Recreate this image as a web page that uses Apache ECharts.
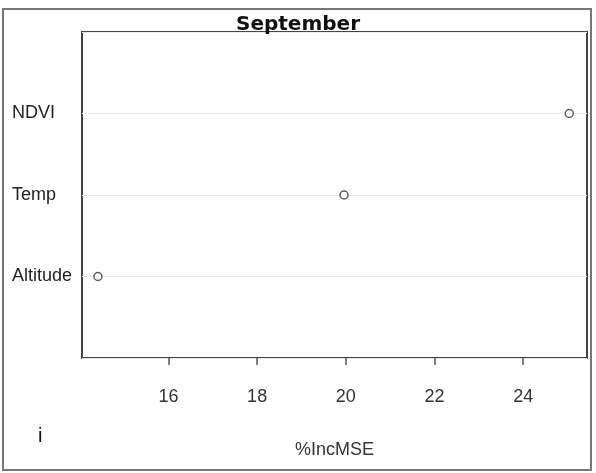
<!DOCTYPE html>
<html>
<head>
<meta charset="utf-8">
<script src="https://cdn.jsdelivr.net/npm/echarts@6/dist/echarts.min.js"></script>
<style>
  html, body { margin: 0; padding: 0; background: #fff; }
  #chart { width: 596px; height: 473px; }
</style>
</head>
<body>
<div id="chart"></div>
<script>
// dotchart rows, bottom to top
const variables = ['Altitude', 'Temp', 'NDVI'];
const incMSE = [14.41, 19.96, 25.04];
const xTicks = [16, 18, 20, 22, 24];

const chart = echarts.init(document.getElementById('chart'));

const points = incMSE.map((v, i) => [v, i + 1]);

chart.setOption({
  animation: false,
  title: {
    text: 'September',
    left: 'center',
    top: 10,
    textStyle: { fontFamily: 'DejaVu Sans', fontWeight: 'bold', fontSize: 20, color: '#111' }
  },
  grid: { left: 82, right: 9, top: 32, bottom: 115, show: true, borderColor: '#444', borderWidth: 2 },
  xAxis: {
    type: 'value',
    min: 14.05,
    max: 25.44,
    name: '%IncMSE',
    nameLocation: 'middle',
    nameGap: 83,
    nameTextStyle: { fontFamily: 'Liberation Sans', fontSize: 18, color: '#333' },
    axisLine: { show: false },
    axisTick: { show: true, length: 7, lineStyle: { color: '#555', width: 1.5 },
      customValues: xTicks },
    axisLabel: { margin: 30, fontFamily: 'Liberation Sans', fontSize: 18, color: '#333',
      customValues: xTicks },
    splitLine: { show: false }
  },
  yAxis: {
    type: 'value',
    min: 0,
    max: variables.length + 1,
    interval: 1,
    axisLine: { show: false },
    axisTick: { show: false },
    axisLabel: {
      align: 'left',
      margin: 70,
      fontFamily: 'Liberation Sans',
      fontSize: 18,
      color: '#222',
      formatter: v => variables[v - 1] || ''
    },
    splitLine: { show: true, lineStyle: { color: '#ebebeb', width: 1 } }
  },
  graphic: [
    {
      type: 'rect',
      shape: { x: 3, y: 9, width: 588, height: 461 },
      style: { fill: 'none', stroke: '#777', lineWidth: 2 },
      silent: true
    },
    {
      type: 'text',
      left: 38,
      top: 426,
      style: { text: 'i', fontFamily: 'Liberation Sans', fontSize: 20, fill: '#111' }
    }
  ],
  series: [
    {
      type: 'scatter',
      data: points,
      symbol: 'circle',
      symbolSize: 8,
      itemStyle: { color: '#fff', borderColor: '#333', borderWidth: 1.5 }
    }
  ]
});
</script>
</body>
</html>
